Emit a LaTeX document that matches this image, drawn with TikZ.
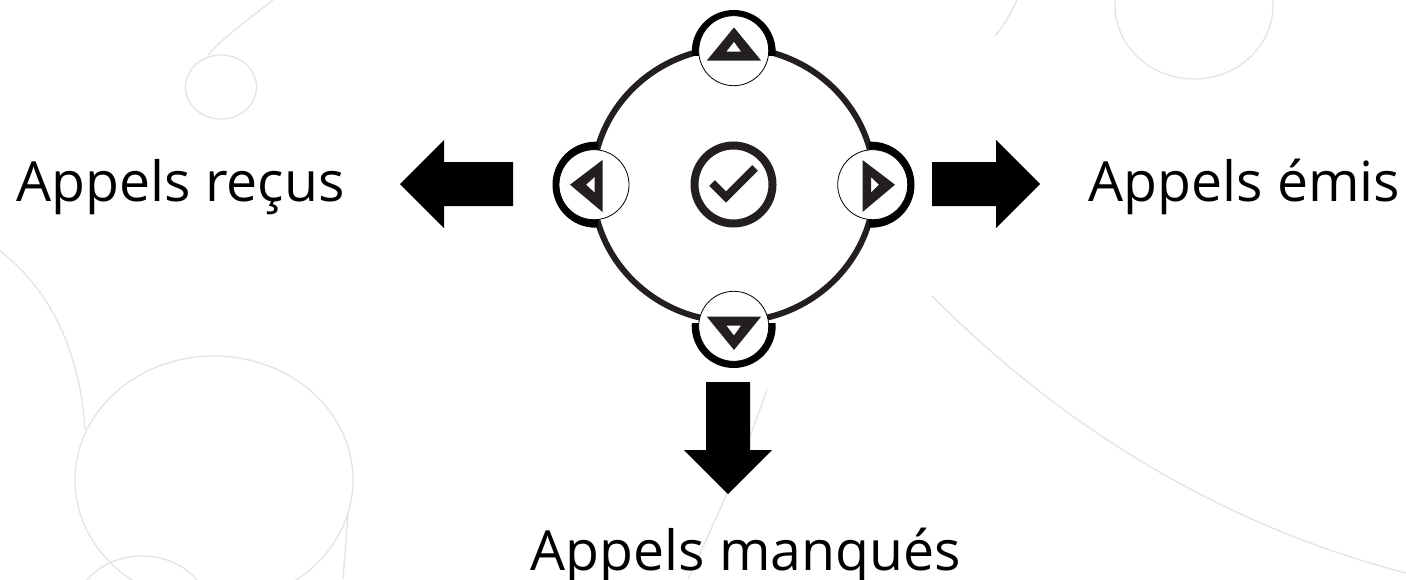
\documentclass[tikz,border=0pt]{standalone}
\usepackage{fontspec}
\setmainfont{Open Sans}
\definecolor{bgline}{HTML}{E3E4E9}
\definecolor{icon}{HTML}{231F20}
\tikzset{
  bg/.style={draw=bgline,line width=1.3pt},
  ringline/.style={draw=icon,line width=6pt},
  blockarrow/.style={fill=black,draw=none},
  glyph/.style={fill=icon,draw=none,even odd rule},
  btn/.style={circle,draw=black,fill=white,line width=0.8pt,minimum size=70pt,inner sep=0pt,outer sep=0pt},
  lab/.style={inner sep=0pt,anchor=base west,font=\fontsize{55.4}{66}\selectfont,text=black}
}
\begin{document}
\begin{tikzpicture}[x=1pt,y=-1pt]
\useasboundingbox (0,0) rectangle (1406,579);
\fill[white] (0,0) rectangle (1406,579);
\begin{scope}
\clip (0,0) rectangle (1406,579);
% background
\draw[bg] (273,0) .. controls (250,18) and (225,36) .. (208,55);
\draw[bg] (221,87) ellipse [x radius=35.5,y radius=32];
\draw[bg] (0,251) .. controls (45,285) and (80,345) .. (85,430);
\draw[bg] (214,480) ellipse [x radius=139,y radius=124];
\draw[bg] (142,610) ellipse [x radius=66,y radius=54];
\draw[bg] (348,513) -- (343,579);
\draw[bg] (1017,0) .. controls (1011,13) and (1004,25) .. (995,36);
\draw[bg] (1194,5) ellipse [x radius=79,y radius=74];
\draw[bg] (932,296) .. controls (1060,425) and (1220,525) .. (1406,573);
\draw[bg] (767,389) .. controls (755,425) and (735,480) .. (688,579);
\end{scope}
% ring
\draw[ringline] (733.5,184.5) ellipse [x radius=141,y radius=137];
% centre
\node[circle,draw=icon,line width=8pt,minimum size=78pt,inner sep=0pt] (ok) at (733.5,184.5) {};
\draw[icon,line width=8pt] (712,183) -- (726,197) -- (755,168);
% buttons: heavy half, then white disc
\begin{scope}
\clip (680,0) rectangle (790,55);
\fill[black] (733.7,52) circle [radius=42];
\end{scope}
\begin{scope}
\clip (680,323) rectangle (790,380);
\fill[black] (733.7,326) circle [radius=42];
\end{scope}
\begin{scope}
\clip (540,130) rectangle (598,240);
\fill[black] (595.5,184.7) circle [radius=43];
\end{scope}
\begin{scope}
\clip (869,130) rectangle (930,240);
\fill[black] (871.5,184.7) circle [radius=43];
\end{scope}
\node[btn] (up) at (733.7,50.7) {};
\node[btn] (down) at (733.7,326.3) {};
\node[btn] (left) at (594,184.7) {};
\node[btn] (right) at (872.7,184.7) {};
% glyphs
\fill[glyph] (734,27.4) -- (761.2,60.7) -- (706.7,60.7) -- cycle (734,41.7) -- (726.2,51.7) -- (741.2,51.7) -- cycle;
\fill[glyph] (734,350) -- (761.2,316.5) -- (706.7,316.5) -- cycle (734,335.5) -- (726.2,325.5) -- (741.2,325.5) -- cycle;
\fill[glyph] (570,184.7) -- (602.5,160) -- (602.5,212) -- cycle (586,184.7) -- (594.5,177) -- (594.5,192.5) -- cycle;
\fill[glyph] (895,184.7) -- (862.5,160) -- (862.5,212) -- cycle (879,184.7) -- (871,177) -- (871,192.5) -- cycle;
% block arrows
\fill[blockarrow] (932,162) -- (996,162) -- (996,140) -- (1040,184) -- (996,228) -- (996,206) -- (932,206) -- cycle;
\fill[blockarrow] (513,162) -- (444,162) -- (444,140) -- (400,184) -- (444,228) -- (444,206) -- (513,206) -- cycle;
\fill[blockarrow] (706,382) -- (750,382) -- (750,450) -- (772,450) -- (728,494) -- (684,450) -- (706,450) -- cycle;
% labels
\node[lab] (recus) at (16,201) {Appels reçus};
\node[lab] (emis) at (1088,201) {Appels émis};
\node[lab] (manques) at (530,570) {Appels manqués};
\end{tikzpicture}
\end{document}
